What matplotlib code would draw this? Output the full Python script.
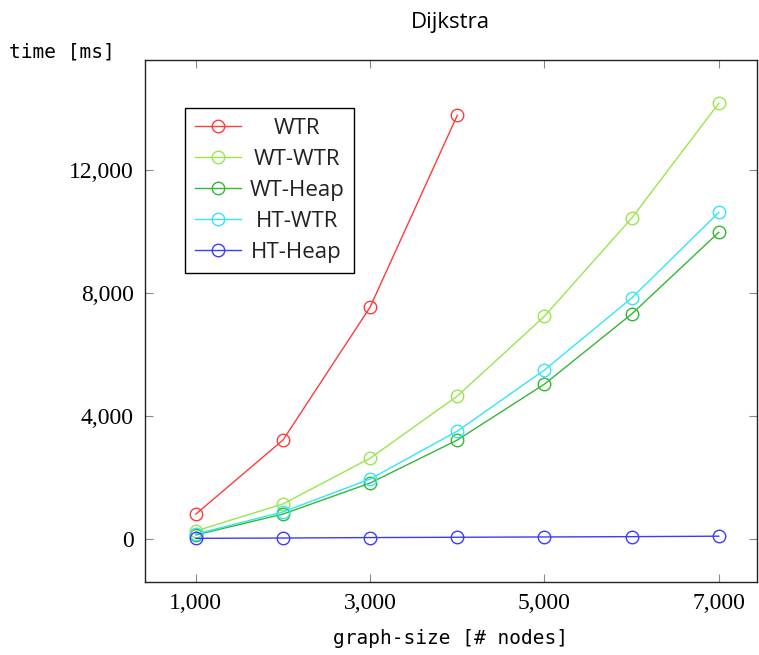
import matplotlib
matplotlib.use("Agg")
import matplotlib.pyplot as plt
from matplotlib.ticker import FuncFormatter

nodes = [1000, 2000, 3000, 4000, 5000, 6000, 7000]

wtr = [810, 3220, 7550, 13790]
wt_wtr = [260, 1140, 2630, 4650, 7250, 10440, 14180]
wt_heap = [130, 810, 1820, 3220, 5040, 7320, 9980]
ht_wtr = [160, 880, 1950, 3510, 5500, 7840, 10630]
ht_heap = [20, 30, 45, 55, 65, 75, 90]

labels = ["WTR", "WT-WTR", "WT-Heap", "HT-WTR", "HT-Heap"]
colors = ["#ff3b3b", "#99e64d", "#33b833", "#33e6f2", "#3b3bff"]

fig = plt.figure(figsize=(7.59, 6.55), dpi=100)
ax = fig.add_axes([0.191, 0.1115, 0.806, 0.7965])

series = [wtr, wt_wtr, wt_heap, ht_wtr, ht_heap]
for vals, lab, col in zip(series, labels, colors):
    ax.plot(nodes[:len(vals)], vals, color=col, lw=1, marker="o",
            markersize=9, markerfacecolor="none", markeredgecolor=col,
            markeredgewidth=1, label=lab)

ax.set_xlim(416, 7435)
ax.set_ylim(-1400, 15580)
ax.set_xticks([1000, 3000, 5000, 7000])
ax.set_yticks([0, 4000, 8000, 12000])
fmt = FuncFormatter(lambda v, p: f"{int(v):,}")
ax.xaxis.set_major_formatter(fmt)
ax.yaxis.set_major_formatter(fmt)
ax.tick_params(direction="in", length=6, color="#888888", top=True, right=True,
               labelsize=17, pad=8)
for t in ax.get_xticklabels() + ax.get_yticklabels():
    t.set_family("Liberation Serif")
for s in ax.spines.values():
    s.set_linewidth(1)
    s.set_color("#222222")

ax.set_title("Dijkstra", fontsize=16, family="Open Sans", pad=23)
fig.text(0.082, 0.92, "time [ms]", fontsize=14, family="DejaVu Sans Mono",
         ha="center", va="center")
ax.set_xlabel("graph-size [# nodes]", fontsize=14, family="DejaVu Sans Mono",
              labelpad=11)

leg = ax.legend(loc="upper left", bbox_to_anchor=(0.065, 0.908), frameon=True,
                fancybox=False, edgecolor="black", framealpha=1,
                prop={"family": "Open Sans", "size": 16}, handlelength=2.1,
                borderpad=0.45, labelspacing=0.45, handletextpad=0.35,
                borderaxespad=0)
leg.get_frame().set_linewidth(1)
for t in leg.get_texts():
    t.set_color("#222222")

# center the legend labels within their column
fig.canvas.draw()
r = fig.canvas.get_renderer()
texts = leg.get_texts()
widths = [t.get_window_extent(r).width for t in texts]
for t, w in zip(texts, widths):
    t.set_x((max(widths) - w) / 2)

fig.savefig("out.png", dpi=100)
